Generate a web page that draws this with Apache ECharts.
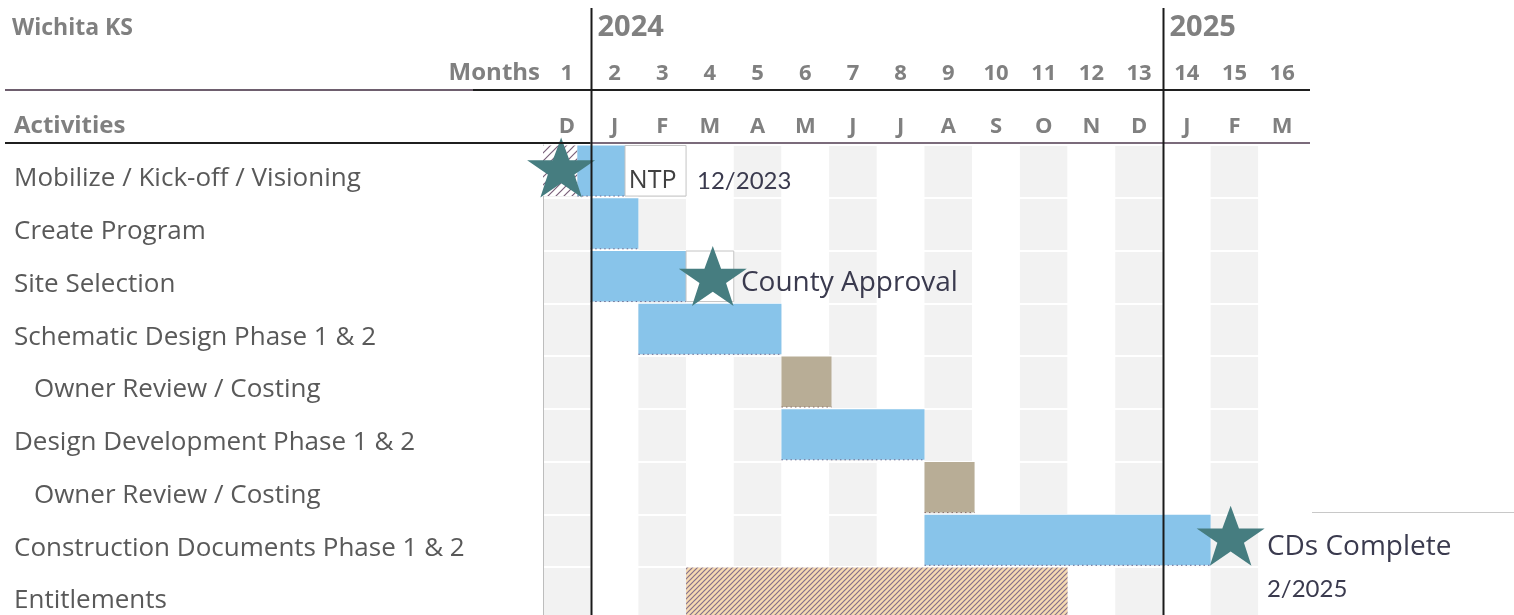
<!DOCTYPE html>
<html><head><meta charset="utf-8">
<script src="https://cdn.jsdelivr.net/npm/echarts@6/dist/echarts.min.js"></script>
<style>html,body{margin:0;padding:0;background:#fff;overflow:hidden;width:1514px;height:615px}#c{width:1514px;height:640px}</style>
</head><body><div id="c"></div>
<script>
// ---------- data ----------
const activities = ['Mobilize / Kick-off / Visioning','Create Program','Site Selection','Schematic Design Phase 1 & 2','Owner Review / Costing','Design Development Phase 1 & 2','Owner Review / Costing','Construction Documents Phase 1 & 2','Entitlements'];
const indented = [false,false,false,false,true,false,true,false,false];
const monthNumbers = ['1','2','3','4','5','6','7','8','9','10','11','12','13','14','15','16'];
const monthLetters = ['D','J','F','M','A','M','J','J','A','S','O','N','D','J','F','M'];
const yearLabels = ['2024','2025'];
const yearStartMonth = [1, 13];
// bars (months from start of Dec 2023)
const barRows   = [0,    0,    0,    1, 2, 2, 3, 4,    5, 6,    7,  8];
const barStarts = [0,    0.72, 1.72, 1, 1, 3, 2, 5,    5, 8,    8,  3];
const barEnds   = [0.72, 1.72, 3,    2, 3, 4, 5, 6.05, 8, 9.05, 14, 11];
const barKinds  = ['lead','phase','box','phase','phase','box','phase','review','phase','review','phase','entitle'];
// milestones
const starX   = [0.38, 3.56, 14.42];
const starRow = [0, 2, 7];
// notes
const noteText = ['NTP', '12/2023', 'County Approval', 'CDs Complete', '2/2025'];
const noteX    = [1.8, 3.23, 4.15, 15.18, 15.18];
const noteRow  = [0, 0, 2, 7, 7];
// ---------- styles ----------
const starDy = [-4, -1, -5];
const noteDy = [9, 10, 6, 6, 49];
const noteFont = ['25px "Open Sans"', '24px Lato', '28px "Open Sans"', '28px "Open Sans"', '24px Lato'];
const noteColor = ['#404040', '#3a3a4e', '#3a3a4e', '#3a3a4e', '#3a3a4e'];

function hatch(bg, fg, step, lw) {
  const c = document.createElement('canvas');
  c.width = step; c.height = step;
  const g = c.getContext('2d');
  g.fillStyle = bg; g.fillRect(0, 0, step, step);
  g.strokeStyle = fg; g.lineWidth = lw;
  g.beginPath();
  g.moveTo(-1, step + 1); g.lineTo(step + 1, -1);
  g.moveTo(-step - 1, step + 1); g.lineTo(1, -1);
  g.moveTo(step - 1, step + 1); g.lineTo(2 * step + 1, -1);
  g.stroke();
  return c;
}
const entPattern = { image: hatch('#f6dab2', '#85708a', 5, 1.2), repeat: 'repeat' };
const leadPattern = { image: hatch('#ffffff', '#7a607a', 8, 1.2), repeat: 'repeat' };

const kindStyle = {
  phase:   { fill: '#88c4ea', stroke: null, dots: '#6a6a90' },
  review:  { fill: '#b8ad96', stroke: null, dots: '#8a6f6a' },
  box:     { fill: '#ffffff', stroke: '#c4c4c4', dots: null },
  lead:    { fill: leadPattern, stroke: null, dots: null },
  entitle: { fill: entPattern, stroke: null, dots: '#8c7088' }
};

const chart = echarts.init(document.getElementById('c'), null, { renderer: 'canvas' });
const FONT = '"Open Sans"';
const headColor = '#808080';
const labelColor = '#595959';

const barData = barRows.map((r, i) => [barStarts[i], barEnds[i], r, i]);
const starData = starX.map((x, i) => ({ value: [x, starRow[i]], symbolOffset: [0, starDy[i]] }));
const noteData = noteX.map((x, i) => [x, noteRow[i], i]);

const starPath = 'path://M50,0 L61.8,34.5 L98.1,34.5 L68.8,55.9 L79.4,90.5 L50,69.1 L20.6,90.5 L31.2,55.9 L1.9,34.5 L38.2,34.5 Z';

chart.setOption({
  animation: false,
  backgroundColor: '#ffffff',
  grid: { left: 543, top: 145, width: 763, height: 474.75, containLabel: false },
  xAxis: [
    { type: 'value', min: 0, max: 16, interval: 1, gridIndex: 0, z: 0,
      axisLine: { show: false }, axisTick: { show: false }, axisLabel: { show: false },
      splitLine: { show: false },
      splitArea: { show: true, areaStyle: { color: ['#f2f2f2', '#ffffff'] } } },
    { type: 'category', data: monthNumbers, position: 'top', offset: 53, gridIndex: 0,
      axisLine: { show: false }, axisTick: { show: false },
      axisLabel: { margin: 7, color: headColor, fontFamily: FONT, fontWeight: 'bold', fontSize: 22, interval: 0 } },
    { type: 'category', data: monthLetters, position: 'top', offset: 0, gridIndex: 0,
      axisLine: { show: false }, axisTick: { show: false },
      axisLabel: { margin: 7, color: headColor, fontFamily: FONT, fontWeight: 'bold', fontSize: 22, interval: 0 } }
  ],
  yAxis: {
    type: 'category', data: activities, inverse: true, z: 1,
    axisLine: { show: true, lineStyle: { color: '#bdbdbd', width: 1 } },
    axisTick: { show: false },
    splitLine: { show: true, lineStyle: { color: '#ffffff', width: 2 } },
    axisLabel: {
      interval: 0, margin: 529, align: 'left', color: labelColor,
      fontFamily: FONT, fontSize: 26, padding: [15, 0, 0, 0],
      formatter: (v, i) => indented[i] ? '{i|' + v + '}' : v,
      rich: { i: { fontFamily: FONT, fontSize: 26, color: labelColor, padding: [0, 0, 0, 20] } }
    }
  },
  series: [
    {
      type: 'custom', z: 3,
      data: barData,
      encode: { x: [0, 1], y: 2 },
      renderItem: (params, api) => {
        const s = api.value(0), e = api.value(1), r = api.value(2);
        const idx = api.value(3);
        const st = kindStyle[barKinds[idx]];
        const p0 = api.coord([s, r]);
        const p1 = api.coord([e, r]);
        const h = api.size([0, 1])[1];
        const y0 = p0[1] - h / 2 + 0.5;
        const hh = h - 2.2;
        const children = [{
          type: 'rect',
          shape: { x: p0[0], y: y0, width: p1[0] - p0[0], height: hh },
          style: { fill: st.fill, stroke: st.stroke || null, lineWidth: st.stroke ? 1 : 0 }
        }];
        if (st.dots) {
          children.push({ type: 'line', shape: { x1: p0[0], y1: y0 + hh, x2: p1[0], y2: y0 + hh },
            style: { stroke: st.dots, lineWidth: 1, lineDash: [1.5, 3] } });
        }
        return { type: 'group', children };
      }
    },
    {
      type: 'scatter', z: 5,
      data: starData,
      symbol: starPath, symbolSize: [68, 60],
      itemStyle: { color: '#467d80', opacity: 1 }
    },
    {
      type: 'custom', z: 6,
      data: noteData,
      encode: { x: 0, y: 1 },
      renderItem: (params, api) => {
        const i = api.value(2);
        const p = api.coord([api.value(0), api.value(1)]);
        return { type: 'text', style: { text: noteText[i], x: p[0], y: p[1] + noteDy[i],
          font: noteFont[i], fill: noteColor[i], textAlign: 'left', textVerticalAlign: 'middle' } };
      }
    }
  ]
});

// header decorations positioned through the x scale
const gx = (m) => chart.convertToPixel({ xAxisIndex: 0 }, m);
const graphics = [];
yearStartMonth.forEach((m, i) => {
  const x = Math.round(gx(m)) + 0.5;
  graphics.push({ type: 'line', z: 50, shape: { x1: x, y1: 8, x2: x, y2: 640 }, style: { stroke: '#1a1a1a', lineWidth: 2 } });
  graphics.push({ type: 'text', z: 50, x: x + 6, y: 28, style: { text: yearLabels[i], font: 'bold 29px ' + FONT, fill: headColor, textVerticalAlign: 'middle' } });
});
const right = gx(16) + 4;
graphics.push({ type: 'line', z: 40, shape: { x1: 5, y1: 90, x2: 473, y2: 90 }, style: { stroke: '#6e5e6e', lineWidth: 2 } });
graphics.push({ type: 'line', z: 40, shape: { x1: 473, y1: 90, x2: right, y2: 90 }, style: { stroke: '#1f1f1f', lineWidth: 2 } });
graphics.push({ type: 'line', z: 40, shape: { x1: 5, y1: 143, x2: gx(1), y2: 143 }, style: { stroke: '#1f1f1f', lineWidth: 2 } });
graphics.push({ type: 'line', z: 40, shape: { x1: gx(1), y1: 143, x2: right, y2: 143 }, style: { stroke: '#7b6b7b', lineWidth: 2 } });
graphics.push({ type: 'line', z: 40, shape: { x1: 1312, y1: 512.5, x2: 1514, y2: 512.5 }, style: { stroke: '#c8c8c8', lineWidth: 1 } });
graphics.push({ type: 'text', z: 50, x: 12, y: 28, style: { text: 'Wichita KS', font: 'bold 23px ' + FONT, fill: headColor, textVerticalAlign: 'middle' } });
graphics.push({ type: 'text', z: 50, x: 540, y: 73, style: { text: 'Months', font: 'bold 24px ' + FONT, fill: headColor, textAlign: 'right', textVerticalAlign: 'middle' } });
graphics.push({ type: 'text', z: 50, x: 14, y: 126, style: { text: 'Activities', font: 'bold 24px ' + FONT, fill: headColor, textVerticalAlign: 'middle' } });
chart.setOption({ graphic: graphics });
</script>
</body></html>
